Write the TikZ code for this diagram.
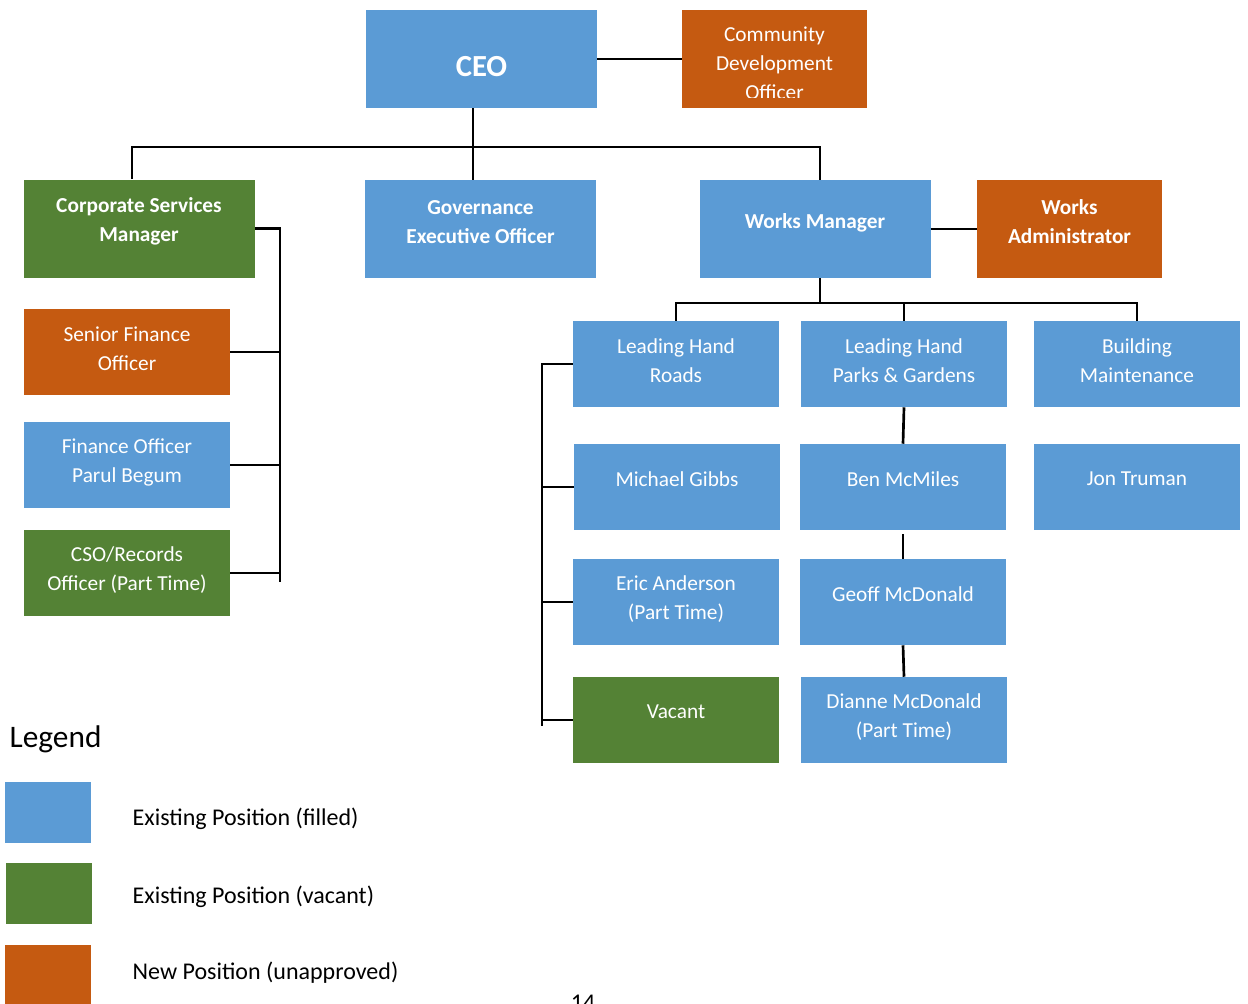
\documentclass[tikz,border=0pt]{standalone}
\usepackage{fontspec}
\setmainfont{Carlito}
\definecolor{posblue}{HTML}{5B9BD5}
\definecolor{posgreen}{HTML}{548235}
\definecolor{posorange}{HTML}{C55A11}
\tikzset{
	post/.style={inner sep=0pt, minimum width=154.5pt, minimum height=64.5pt},
	widepost/.style={minimum width=173.25pt, minimum height=73.5pt},
	narrowpost/.style={minimum width=138.75pt, minimum height=73.5pt},
	filledpos/.style={post, fill=posblue},
	vacantpos/.style={post, fill=posgreen},
	newpos/.style={post, fill=posorange},
	txt/.style={text=white, align=center, font=\fontsize{16}{21.75}\selectfont, yshift=#1},
	txt/.default=2.2pt,
	boldtxt/.style={font=\fontsize{16}{21.75}\selectfont\bfseries},
	legendtxt/.style={anchor=west, font=\fontsize{18}{22}\selectfont},
	conn/.style={line width=2pt},
}
\begin{document}
\begin{tikzpicture}[x=0.75pt, y=-0.75pt]
	\useasboundingbox (0,0) rectangle (1248,1003);
	% top level
	\node[filledpos, widepost, label={[txt=-6pt, font=\fontsize{23}{28}\selectfont\bfseries]center:CEO}] (ceo) at (481.5,59) {};
	\node[newpos, narrowpost] (cdo) at (774.5,59) {};
	\begin{scope}
		\clip (682,10) rectangle (867,97);
		\node[txt=0pt] (cdotext) at (774.5,63.5) {Community\\Development\\Officer};
	\end{scope}
	% managers
	\node[vacantpos, widepost, label={[txt=5.4pt, boldtxt]center:Corporate Services\\Manager}] (csm) at (139,228.5) {};
	\node[filledpos, widepost, label={[txt=5.2pt, boldtxt]center:Governance\\Executive Officer}] (gov) at (480.5,229) {};
	\node[filledpos, widepost, label={[txt=4.8pt, boldtxt]center:Works Manager}] (wm) at (815,229) {};
	\node[newpos, narrowpost, label={[txt=5.6pt, boldtxt]center:Works\\Administrator}] (wa) at (1069.5,229) {};
	% corporate services
	\node[newpos, label={[txt]center:Senior Finance\\Officer}] (sfo) at (127,352) {};
	\node[filledpos, label={[txt]center:Finance Officer\\Parul Begum}] (fo) at (127,465) {};
	\node[vacantpos, label={[txt]center:CSO/Records\\Officer (Part Time)}] (cso) at (127,573) {};
	% works
	\node[filledpos, label={[txt]center:Leading Hand\\Roads}] (roads) at (676,364) {};
	\node[filledpos, label={[txt]center:Leading Hand\\Parks \& Gardens}] (parks) at (904,364) {};
	\node[filledpos, label={[txt]center:Building\\Maintenance}] (bm) at (1137,364) {};
	\node[filledpos, label={[txt=5.6pt]center:Michael Gibbs}] (gibbs) at (677,487) {};
	\node[filledpos, label={[txt=5.6pt]center:Ben McMiles}] (ben) at (903,487) {};
	\node[filledpos, label={[txt=6pt]center:Jon Truman}] (jon) at (1137,487) {};
	\node[filledpos, label={[txt]center:Eric Anderson\\(Part Time)}] (eric) at (676,602) {};
	\node[filledpos, label={[txt=5.6pt]center:Geoff McDonald}] (geoff) at (903,602) {};
	\node[vacantpos, label={[txt=6.4pt]center:Vacant}] (vacancy) at (676,720) {};
	\node[filledpos, label={[txt]center:Dianne McDonald\\(Part Time)}] (dianne) at (904,720) {};
	% connectors
	\coordinate (split) at (473,147);
	\draw[conn] (ceo.east) -- (cdo.west);
	\draw[conn] (ceo.south -| split) -- (gov.north -| split);
	\draw[conn] ([xshift=-5.25pt]csm.north) |- (split) -| ([xshift=3.75pt]wm.north);
	\coordinate (cbus) at (280,582);
	\draw[conn] (csm.east) -| (cbus);
	\foreach \n in {sfo,fo,cso}
		\draw[conn] (\n.east) -- (\n.east -| cbus);
	\draw[conn] (wm.east) -- (wa.west);
	\coordinate (wbus) at (820,303);
	\draw[conn] (wm.south -| wbus) -- (wbus);
	\draw[conn] (roads.north) |- (wbus) -| (bm.north);
	\draw[conn] (parks.north) -- (parks.north |- wbus);
	\coordinate (rbus) at (542,726);
	\draw[conn] (roads.west) -| (rbus);
	\foreach \n in {gibbs,eric,vacancy}
		\draw[conn] (\n.west) -- (\n.west -| rbus);
	\draw[conn] (parks.south) -- (ben.north);
	\draw[conn] ([yshift=-3pt]ben.south) -- (geoff.north);
	\draw[conn] (geoff.south) -- (dianne.north);
	% legend
	\node[anchor=west, font=\fontsize{23.5}{28}\selectfont] (legend) at (5,739) {Legend};
	\node[post, minimum width=64.5pt, minimum height=45.75pt, fill=posblue] (keyfilled) at (48,812.5) {};
	\node[post, minimum width=64.5pt, minimum height=45.75pt, fill=posgreen] (keyvacant) at (49,893.5) {};
	\node[post, minimum width=64.5pt, minimum height=45.75pt, fill=posorange] (keynew) at (48,975.5) {};
	\node[legendtxt] (keyfilledtxt) at (128,819) {Existing Position (filled)};
	\node[legendtxt] (keyvacanttxt) at (128,897) {Existing Position (vacant)};
	\node[legendtxt] (keynewtxt) at (128,973) {New Position (unapproved)};
	\node[anchor=base, font=\fontsize{18}{22}\selectfont] (page) at (583,1010) {14};
\end{tikzpicture}
\end{document}
